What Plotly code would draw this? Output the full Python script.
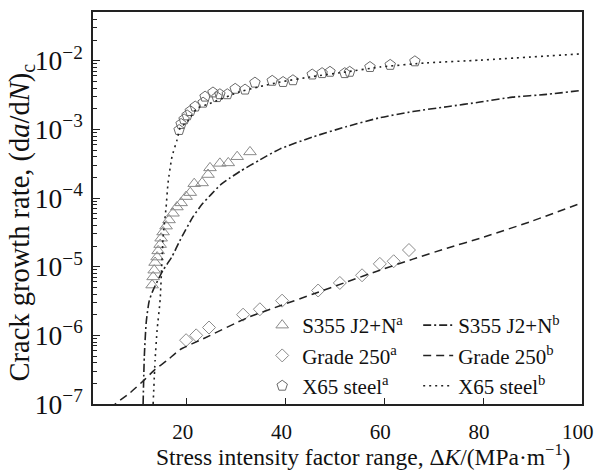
import plotly.graph_objects as go

# ---- data ----
s355_dk = [12.98, 13.18, 13.4, 13.58, 13.99, 14.2, 14.6, 14.8, 15.2, 15.8, 16.4, 17.2, 18.0,
           18.85, 19.86, 20.7, 21.5, 23.1, 24.3, 24.7, 26.7, 28.4, 30.2, 32.8]
s355_rate = [5.4e-6, 7.1e-6, 8.9e-6, 1.15e-5, 1.38e-5, 1.7e-5, 2.1e-5, 2.6e-5, 3.2e-5, 3.9e-5,
             4.8e-5, 6.0e-5, 7.4e-5, 8.5e-5, 1.05e-4, 1.2e-4, 1.62e-4, 1.66e-4, 2.2e-4,
             2.75e-4, 3.2e-4, 3.25e-4, 4.0e-4, 4.7e-4]

g250_dk = [19.86, 21.9, 24.5, 31.4, 34.8, 39.3, 46.6, 51.0, 55.5, 59.1, 61.9, 65.0]
g250_rate = [8.5e-7, 1.0e-6, 1.3e-6, 2.0e-6, 2.4e-6, 3.2e-6, 4.5e-6, 5.8e-6, 7.5e-6,
             1.1e-5, 1.2e-5, 1.75e-5]

x65_dk = [18.44, 18.85, 19.45, 20.06, 20.7, 21.7, 23.3, 23.7, 25.3, 26.1, 26.7, 28.2, 29.8,
          31.8, 33.8, 37.3, 39.5, 41.5, 45.4, 47.4, 49.0, 52.0, 53.0, 57.1, 61.2, 66.2]
x65_rate = [9.8e-4, 1.2e-3, 1.4e-3, 1.6e-3, 1.85e-3, 2.15e-3, 2.45e-3, 3.0e-3, 3.45e-3,
            2.95e-3, 3.25e-3, 3.25e-3, 3.9e-3, 3.8e-3, 4.8e-3, 5.1e-3, 4.9e-3, 5.2e-3,
            6.3e-3, 6.6e-3, 6.9e-3, 6.6e-3, 6.9e-3, 8.1e-3, 8.7e-3, 9.8e-3]

s355_fit_dk = [11.15, 11.4, 11.8, 12.4, 13.2, 15.2, 17.0, 18.6, 21.3, 23.2, 24.9, 26.8, 28.7,
               30.8, 34.8, 38.9, 45.6, 52.4, 59.1, 65.8, 72.7, 79.4, 86.0, 92.9, 100.0]
s355_fit_rate = [1.0e-7, 5.0e-7, 1.6e-6, 3.2e-6, 4.6e-6, 8.9e-6, 1.4e-5, 2.4e-5, 5.4e-5,
                 8.3e-5, 1.12e-4, 1.55e-4, 1.95e-4, 2.45e-4, 3.6e-4, 5.2e-4, 7.8e-4, 1.1e-3,
                 1.48e-3, 1.82e-3, 2.14e-3, 2.5e-3, 2.95e-3, 3.24e-3, 3.7e-3]

g250_fit_dk = [3.0, 5.5, 8.5, 11.56, 13.58, 16.0, 18.64, 23.3, 32.2, 38.9, 45.6, 52.4, 59.1,
               65.8, 72.7, 79.4, 89.5, 100.0]
g250_fit_rate = [6.0e-8, 1.0e-7, 1.45e-7, 2.3e-7, 3.2e-7, 4.3e-7, 6.2e-7, 8.9e-7, 1.8e-6,
                 2.7e-6, 4.0e-6, 6.0e-6, 8.9e-6, 1.29e-5, 1.86e-5, 2.6e-5, 4.5e-5, 8.5e-5]

x65_fit_dk = [13.18, 13.58, 13.99, 14.6, 15.2, 15.81, 16.2, 17.0, 18.04, 18.65, 20.06, 22.1,
              24.1, 30.8, 34.8, 38.9, 45.6, 52.4, 59.1, 68.6, 79.4, 100.0]
x65_fit_rate = [1.0e-7, 4.4e-7, 1.2e-6, 3.3e-6, 2.7e-5, 7.4e-5, 1.66e-4, 4.0e-4, 7.1e-4,
                1.05e-3, 1.29e-3, 2.04e-3, 2.3e-3, 3.55e-3, 4.2e-3, 4.9e-3, 5.9e-3, 6.9e-3,
                8.1e-3, 9.3e-3, 1.02e-2, 1.26e-2]

x_ticks = [20, 40, 60, 80, 100]
x_tick_labels = ["20", "40", "60", "80", "100"]

X_TITLE = "Stress intensity factor range, Δ<i>K</i>/(MPa·m<sup>−1</sup>)"
Y_TITLE = "Crack growth rate, (d<i>a</i>/d<i>N</i>)<sub>c</sub>"

FONT = "Liberation Serif, Times New Roman, serif"
GRAY = "#8a8a8a"

fig = go.Figure()

fig.add_trace(go.Scatter(x=s355_dk, y=s355_rate, mode="markers", name="S355 J2+N<sup>a</sup>",
                         marker=dict(symbol="triangle-up-open", size=11, color=GRAY, line=dict(width=1)),
                         legend="legend"))
fig.add_trace(go.Scatter(x=g250_dk, y=g250_rate, mode="markers", name="Grade 250<sup>a</sup>",
                         marker=dict(symbol="diamond-open", size=10, color=GRAY, line=dict(width=1)),
                         legend="legend"))
fig.add_trace(go.Scatter(x=x65_dk, y=x65_rate, mode="markers", name="X65 steel<sup>a</sup>",
                         marker=dict(symbol="pentagon-open", size=11, color="#6a6a6a", line=dict(width=1)),
                         legend="legend"))

fig.add_trace(go.Scatter(x=s355_fit_dk, y=s355_fit_rate, mode="lines", name="S355 J2+N<sup>b</sup>",
                         line=dict(color="#222", width=1.6, dash="8px,3px,2px,3px", shape="spline", smoothing=0.6),
                         legend="legend2"))
fig.add_trace(go.Scatter(x=g250_fit_dk, y=g250_fit_rate, mode="lines", name="Grade 250<sup>b</sup>",
                         line=dict(color="#222", width=1.5, dash="8px,5px", shape="spline", smoothing=0.5),
                         legend="legend2"))
fig.add_trace(go.Scatter(x=x65_fit_dk, y=x65_fit_rate, mode="lines", name="X65 steel<sup>b</sup>",
                         line=dict(color="#222", width=1.6, dash="2px,4px", shape="spline", smoothing=0.5),
                         legend="legend2"))

legend_common = dict(font=dict(family=FONT, size=21, color="#111"), bgcolor="rgba(0,0,0,0)",
                     xanchor="left", yanchor="top", tracegroupgap=0, itemwidth=30)

fig.update_layout(
    width=595, height=470,
    margin=dict(l=93, r=13, t=12, b=66, autoexpand=False),
    paper_bgcolor="white", plot_bgcolor="white",
    font=dict(family=FONT, size=22, color="#111"),
    legend=dict(x=0.346, y=0.2526, **legend_common),
    legend2=dict(x=0.665, y=0.2526, **legend_common),
    xaxis=dict(range=[1, 100.05], tickvals=x_ticks, ticktext=x_tick_labels, ticks="inside",
               ticklen=6, tickcolor="#222",
               showline=True, linecolor="#222", linewidth=1.5, mirror=True, showgrid=False,
               zeroline=False, tickfont=dict(size=21), ticklabelstandoff=8, ticklabelshift=-4,
               ticklabeloverflow="allow", automargin=False),
    yaxis=dict(type="log", range=[-7, -1.29], dtick=1, exponentformat="power", showexponent="all",
               ticks="inside", ticklen=7, tickcolor="#222",
               minor=dict(ticks="inside", ticklen=4, dtick="D1", tickcolor="#222", showgrid=False),
               showline=True, linecolor="#222", linewidth=1.5, mirror=True, showgrid=False,
               tickfont=dict(size=22), ticklabelstandoff=4, automargin=False),
    annotations=[
        dict(text=X_TITLE, xref="paper", yref="paper", x=0.552, y=-0.13,
             xanchor="center", yanchor="middle", showarrow=False, font=dict(size=23.5)),
        dict(text=Y_TITLE, xref="paper", yref="paper", x=-0.1465, y=0.464, textangle=-90,
             xanchor="center", yanchor="middle", showarrow=False, font=dict(size=28.5)),
    ],
)

fig.write_html("out.html")
